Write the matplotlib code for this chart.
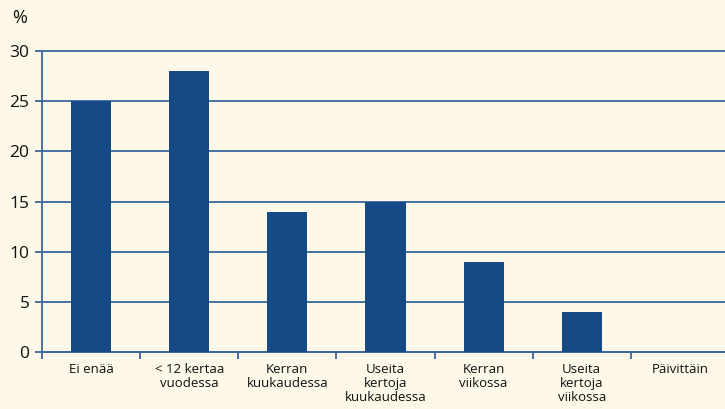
import matplotlib
matplotlib.use("Agg")
import matplotlib.pyplot as plt

BG = "#fdf8e7"
BAR = "#154a87"
GRID = "#3a67a0"
TEXT = "#111111"

categories = ["Ei enää", "< 12 kertaa\nvuodessa", "Kerran\nkuukaudessa",
              "Useita\nkertoja\nkuukaudessa", "Kerran\nviikossa",
              "Useita\nkertoja\nviikossa", "Päivittäin"]
values = [25, 28, 14, 15, 9, 4, 0]
yticks = [0, 5, 10, 15, 20, 25, 30]

plt.rcParams["font.family"] = ["Open Sans", "DejaVu Sans"]

fig = plt.figure(figsize=(7.25, 4.09), dpi=100)
fig.patch.set_facecolor(BG)
ax = fig.add_axes([42 / 725, 1 - 352 / 409, 687 / 725, 301 / 409])
ax.set_facecolor(BG)

x = list(range(len(categories)))
ax.bar(x, values, width=0.41, color=BAR, zorder=3)

ax.set_xlim(-0.5, len(categories) - 0.5)
ax.set_ylim(0, 30)
ax.set_yticks(yticks)
ax.set_yticklabels([str(v) for v in yticks], fontsize=12.5, color=TEXT)
ax.yaxis.grid(True, color=GRID, lw=1.3, zorder=1)
for gl in ax.get_ygridlines():
    gl.set_clip_on(False)

# category ticks on boundaries, labels centred
ax.set_xticks([i - 0.5 for i in range(len(categories) + 1)])
ax.set_xticklabels([""] * (len(categories) + 1))
ax.set_xticks(x, minor=True)
ax.set_xticklabels(categories, minor=True, fontsize=9.5, color=TEXT,
                   linespacing=1.1)
ax.tick_params(axis="x", which="minor", length=0, pad=8)
ax.tick_params(axis="x", which="major", length=5, color=GRID, width=1.3)
ax.tick_params(axis="y", length=5, color=GRID, width=1.3, pad=4)

for s in ["top", "right"]:
    ax.spines[s].set_visible(False)
for s in ["left", "bottom"]:
    ax.spines[s].set_color(GRID)
    ax.spines[s].set_linewidth(1.3)

fig.text(20 / 725, 1 - 18 / 409, "%", ha="center", va="center",
         fontsize=13, color=TEXT)

fig.savefig("out.png", dpi=100, facecolor=BG)
